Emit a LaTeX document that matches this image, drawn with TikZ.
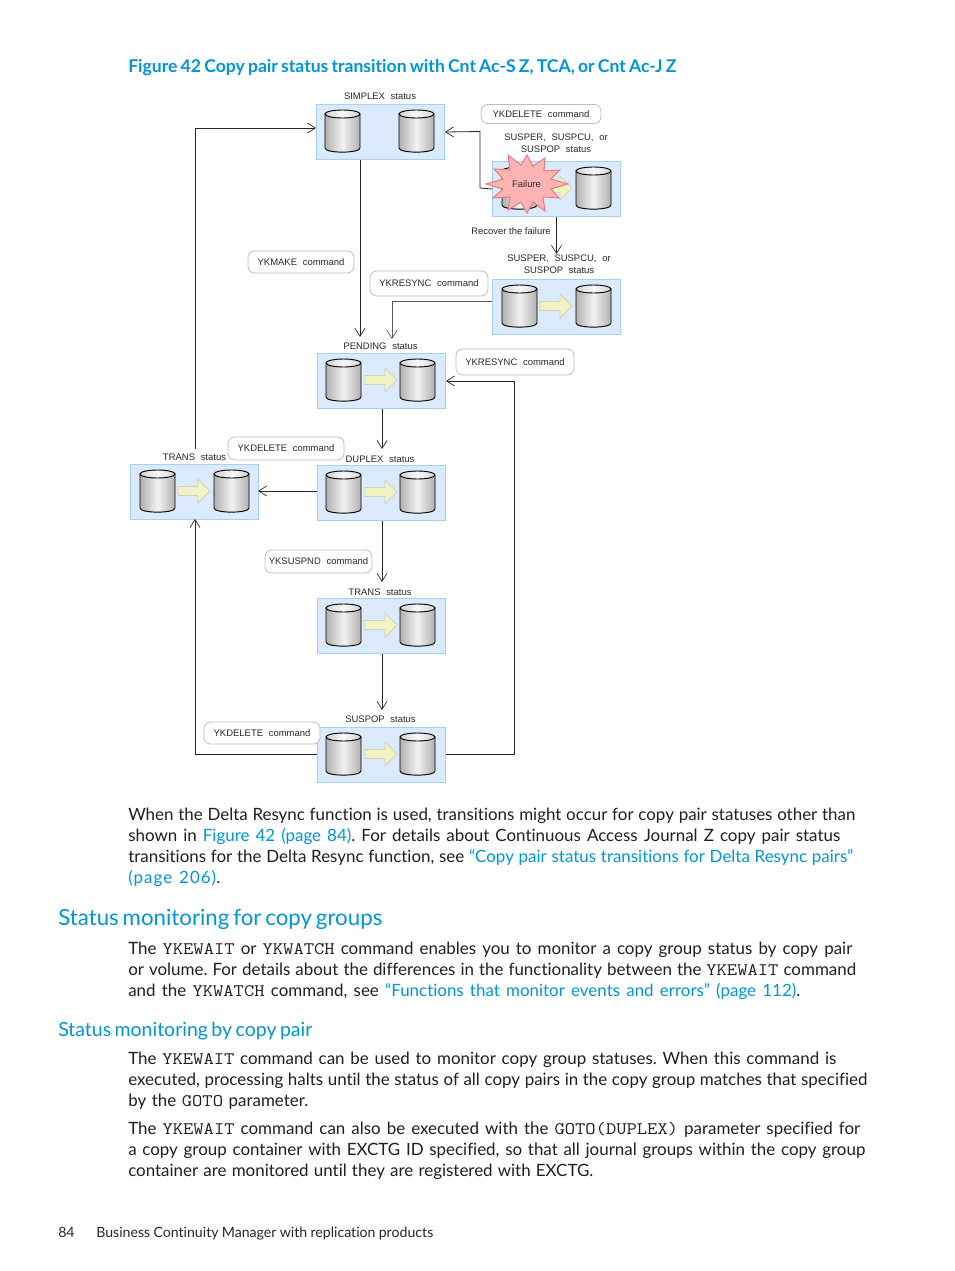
\documentclass[tikz,border=0pt]{standalone}
\usepackage{fontspec}
\usetikzlibrary{arrows.meta,calc}
\setmainfont{Lato}[Ligatures=NoCommon,Numbers=Monospaced]
\newfontfamily\diag{Liberation Sans}
\definecolor{hpblue}{HTML}{0096D6}
\definecolor{boxfill}{HTML}{DBEBFD}
\definecolor{boxline}{HTML}{A8D0F5}
\definecolor{flowfill}{HTML}{F3F2C4}
\definecolor{flowline}{HTML}{D2D2B4}
\definecolor{burstfill}{HTML}{FFB4B4}
\definecolor{burstline}{HTML}{E87878}
\definecolor{pillline}{HTML}{BDBDBD}
\definecolor{inkc}{HTML}{2A2A2A}
\newcommand{\wgap}{\hspace{0.6em}}
\newcommand{\mt}[1]{\scalebox{1}[0.88]{\ttfamily\fontsize{15pt}{15pt}\selectfont #1}}
\newcommand{\lk}[1]{\textcolor{hpblue}{#1}}
\newcommand{\fitw}[2]{\makebox[\dimexpr #1pt*3/4\relax][s]{\frenchspacing #2}}
\newcommand{\bodyline}[5]{\node[bodytxt] (#1) at (#2,#3) {\fitw{#4}{#5}};}
\newcommand{\cyl}[1]{%
  \begin{scope}[shift={(#1,0)}]
    \path[draw=black,line width=0.7pt,left color=gray!62,right color=gray!62,middle color=gray!10]
      (0,14) -- (0,48) .. controls (0,53.5) and (35,53.5) .. (35,48) -- (35,14) -- cycle;
    \path[draw=black,line width=0.7pt,left color=gray!35,right color=gray!35,middle color=gray!5]
      (17.5,14) ellipse [x radius=17.5,y radius=4];
  \end{scope}}
\newcommand{\flowarrow}{%
  \path[draw=flowline,fill=flowfill,line width=0.6pt]
    (48,26.5) -- (68,26.5) -- (68,19) -- (80,31) -- (68,43) -- (68,35.5) -- (48,35.5) -- cycle;}
\newcommand{\statebox}[4]{% name, x, y, height
  \node[stbox,minimum height=#4*0.75pt] (#1) at (#2,#3) {};}
\tikzset{
  x=0.75pt,y=-0.75pt,
  stbox/.style={draw=boxline,fill=boxfill,line width=0.75pt,anchor=north west,minimum width=128*0.75pt,inner sep=0pt},
  pill/.style={draw=pillline,fill=white,rounded corners=5pt,line width=0.6pt,inner sep=0pt,text=inkc,font=\diag\fontsize{7.1pt}{8pt}\selectfont},
  lbl/.style={inner sep=0pt,text=inkc,font=\diag\fontsize{7.1pt}{9pt}\selectfont,align=center},
  conn/.style={draw=black!85,line width=0.6pt,-{Straight Barb[length=6pt,width=7.5pt,line width=0.5pt]}},
  bodytxt/.style={anchor=base west,inner sep=0pt,text=black!88,font=\fontsize{12.7pt}{15pt}\selectfont},
  head/.style={anchor=base west,inner sep=0pt,text=hpblue},
  foot/.style={anchor=base west,inner sep=0pt,text=black!85,font=\fontsize{10.6pt}{13pt}\selectfont}
}
\begin{document}
\begin{tikzpicture}
\useasboundingbox (0,0) rectangle (954,1271);
\fill[white] (0,0) rectangle (954,1271);

% headings
\node[head,font=\bfseries\fontsize{13.2pt}{16pt}\selectfont] (title) at (128,72) {\fitw{548}{Figure 42 Copy pair status transition with Cnt Ac-S Z, TCA, or Cnt Ac-J Z}};

% state boxes
\statebox{simplex}{316}{104}{55}
\statebox{fbox}{492}{161}{55}
\statebox{rbox}{492}{279}{55}
\statebox{pending}{317}{353}{55}
\statebox{duplex}{317}{465}{55}
\statebox{transl}{130}{464}{55}
\statebox{transm}{317}{598}{55}
\statebox{suspop}{317}{727}{55}

% named ends of the connectors
\coordinate (upl) at (195,449);
\coordinate (cornerA) at (195,128);
\coordinate (simplexW) at (316,128);
\coordinate (downA) at (360,337);
\coordinate (xA) at (360,0);
\coordinate (cornerB) at (480,188);
\coordinate (cornerC) at (480,131.5);
\coordinate (recoverEnd) at (556.5,254);
\coordinate (rW) at (492,301);
\coordinate (cornerD) at (392,301);
\coordinate (resyncEnd) at (392,339);
\coordinate (xE) at (382,0);
\coordinate (dupTip) at (382,449);
\coordinate (tmTip) at (382,582);
\coordinate (spTip) at (382,710);
\coordinate (spY) at (0,754);
\coordinate (cornerF) at (514,754);
\coordinate (cornerG) at (514,381);
\coordinate (cornerH) at (195,754);
\coordinate (tlTip) at (195,519);
\coordinate (dupY) at (0,491);
\coordinate (tlE) at (258,491);

% connectors
\draw[conn] (upl) -- (cornerA) -- (simplexW);
\draw[conn] (simplex.south -| xA) -- (downA);
\draw[conn] (fbox.west) -- (cornerB) -- (cornerC) -- (simplex.east);
\draw[conn] (fbox.south -| recoverEnd) -- (recoverEnd);
\draw[conn,draw=black!65] (rW) -- (cornerD) -- (resyncEnd);
\draw[conn] (pending.south -| xE) -- (dupTip);
\draw[conn] (duplex.west |- dupY) -- (tlE);
\draw[conn] (duplex.south -| xE) -- (tmTip);
\draw[conn] (transm.south -| xE) -- (spTip);
\draw[conn] (suspop.east |- spY) -- (cornerF) -- (cornerG) -- (pending.east |- cornerG);
\draw[conn] (suspop.west |- spY) -- (cornerH) -- (tlTip);

% disks and copy arrows
\begin{scope}[shift={(316,100)}] \cyl{9}\cyl{83} \end{scope}
\begin{scope}[shift={(492,157)}] \cyl{10}\cyl{84}\flowarrow \end{scope}
\begin{scope}[shift={(492,275)}] \cyl{10}\cyl{84}\flowarrow \end{scope}
\begin{scope}[shift={(317,349)}] \cyl{9}\cyl{83}\flowarrow \end{scope}
\begin{scope}[shift={(317,461)}] \cyl{9}\cyl{83}\flowarrow \end{scope}
\begin{scope}[shift={(130,460)}] \cyl{10}\cyl{84}\flowarrow \end{scope}
\begin{scope}[shift={(317,594)}] \cyl{9}\cyl{83}\flowarrow \end{scope}
\begin{scope}[shift={(317,723)}] \cyl{9}\cyl{83}\flowarrow \end{scope}

% failure burst
\path[draw=burstline,fill=burstfill,line width=0.7pt]
  (486,184)--(503,179)--(494,169)--(510,170)--(508,155)--(521,165)--(527,155)--(533,166)--(545,158)--(544,171)--(560,170)--(551,179)--(568,184)--(551,189)--(559,198)--(543,197)--(545,211)--(533,202)--(527,213)--(521,202)--(508,210)--(510,197)--(493,198)--(503,189)--cycle;
\node[lbl] (failure) at (526.5,184) {Failure};

% status labels
\node[lbl] (lsimplex) at (380,96) {SIMPLEX\wgap status};
\node[lbl] (lf) at (556,143) {SUSPER,\wgap SUSPCU,\wgap or\\SUSPOP\wgap status};
\node[lbl] (lrec) at (511,231) {Recover the failure};
\node[lbl] (lr) at (559,264) {SUSPER,\wgap SUSPCU,\wgap or\\SUSPOP\wgap status};
\node[lbl] (lpend) at (380.5,346) {PENDING\wgap status};
\node[lbl] (ldup) at (380,459) {DUPLEX\wgap status};
\node[lbl] (ltl) at (194.5,457.5) {TRANS\wgap status};
\node[lbl] (ltm) at (380,592) {TRANS\wgap status};
\node[lbl] (lsp) at (380.5,719) {SUSPOP\wgap status};

% command pills
\node[pill,minimum width=120*0.75pt,minimum height=19*0.75pt] (p1) at (541,114) {YKDELETE\wgap command};
\node[pill,minimum width=106*0.75pt,minimum height=22*0.75pt] (p2) at (301,262) {YKMAKE\wgap command};
\node[pill,minimum width=118*0.75pt,minimum height=25*0.75pt] (p3) at (429,283.5) {YKRESYNC\wgap command};
\node[pill,minimum width=118*0.75pt,minimum height=26*0.75pt] (p4) at (515,362) {YKRESYNC\wgap command};
\node[pill,minimum width=116*0.75pt,minimum height=23*0.75pt] (p5) at (286,448.5) {YKDELETE\wgap command};
\node[pill,minimum width=107*0.75pt,minimum height=23*0.75pt] (p6) at (318.5,561.5) {YKSUSPND\wgap command};
\node[pill,minimum width=116*0.75pt,minimum height=22*0.75pt] (p7) at (262,733) {YKDELETE\wgap command};

% body text
\bodyline{b1}{128}{820}{727}{When the Delta Resync function is used, transitions might occur for copy pair statuses other than}
\bodyline{b2}{128}{841}{712}{shown in \lk{Figure 42 (page 84)}. For details about Continuous Access Journal Z copy pair status}
\bodyline{b3}{128}{862}{725}{transitions for the Delta Resync function, see \lk{“Copy pair status transitions for Delta Resync pairs”}}
\bodyline{b4}{128}{883}{92}{\addfontfeature{LetterSpace=6}\lk{(page 206)}.}
\node[head,font=\fontsize{16.7pt}{22pt}\selectfont] (h1) at (58,925) {\fitw{324}{Status monitoring for copy groups}};
\bodyline{b5}{128}{954}{724}{The \mt{YKEWAIT} or \mt{YKWATCH} command enables you to monitor a copy group status by copy pair}
\bodyline{b6}{128}{975}{728}{or volume. For details about the differences in the functionality between the \mt{YKEWAIT} command}
\bodyline{b7}{128}{996}{672}{and the \mt{YKWATCH} command, see \lk{“Functions that monitor events and errors” (page 112)}.}
\node[head,font=\fontsize{14.6pt}{18pt}\selectfont] (h2) at (58,1036) {\fitw{254}{Status monitoring by copy pair}};
\bodyline{b8}{128}{1064}{708}{The \mt{YKEWAIT} command can be used to monitor copy group statuses. When this command is}
\bodyline{b9}{128}{1085}{739}{executed, processing halts until the status of all copy pairs in the copy group matches that specified}
\bodyline{b10}{128}{1106}{180}{by the \mt{GOTO} parameter.}
\bodyline{b11}{128}{1134}{732}{The \mt{YKEWAIT} command can also be executed with the \mt{GOTO(DUPLEX)} parameter specified for}
\bodyline{b12}{128}{1155}{737}{a copy group container with EXCTG ID specified, so that all journal groups within the copy group}
\bodyline{b13}{128}{1176}{465}{container are monitored until they are registered with EXCTG.}
\node[foot] (f1) at (58,1237) {84};
\node[foot] (f2) at (96,1237) {\fitw{337}{Business Continuity Manager with replication products}};
\end{tikzpicture}
\end{document}
